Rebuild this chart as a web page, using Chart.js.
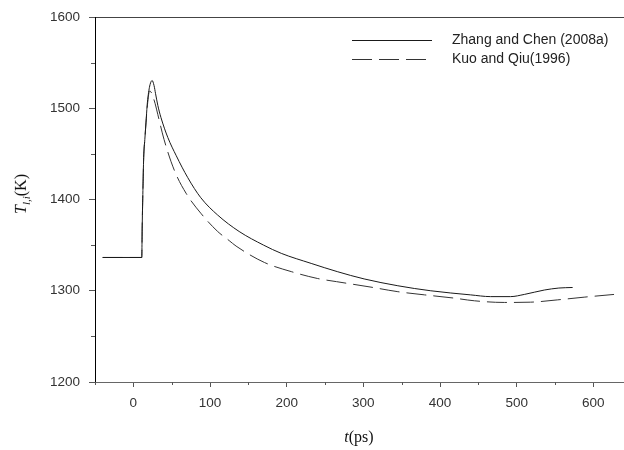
<!DOCTYPE html>
<html>
<head>
<meta charset="utf-8">
<script src="https://cdn.jsdelivr.net/npm/chart.js@4.4.0/dist/chart.umd.min.js"></script>
<style>
  body { margin: 0; overflow: hidden; background: #fff; }
  #wrap { position: relative; width: 624px; height: 450px; }
  .titre { position: absolute; font-family: "Liberation Serif", "Times New Roman", serif; color: #111; white-space: nowrap; }
  .titreY { left: 22px; top: 194px; font-size: 16px; transform: translate(-50%, -50%) rotate(-90deg); }
  .titreY sub { font-size: 11px; }
  .titreX { left: 359px; top: 437px; font-size: 16px; transform: translate(-50%, -50%); }
</style>
</head>
<body>
<div id="wrap">
  <canvas id="myChart" width="624" height="450"></canvas>
  <div class="titre titreY"><i>T</i><sub><i>l,i</i></sub>(K)</div>
  <div class="titre titreX"><i>t</i>(ps)</div>
</div>
<script>
// données (t en ps, T en K)
const tZhang = [-40, 11, 11.6, 12.5, 13.5, 15, 16.5, 18, 19.5, 21, 22.5, 24.5, 27, 29, 32, 36, 45, 56, 71, 88, 110, 138, 170, 193, 232, 266, 301, 345, 388, 440, 466, 492, 510, 536, 555, 573];
const tempZhang = [1336.5, 1336.5, 1372, 1410, 1446, 1466, 1484, 1503, 1515, 1523, 1528, 1530.5, 1525, 1516, 1503, 1490, 1468, 1448, 1424, 1402, 1383, 1365, 1350, 1341, 1330, 1321, 1313, 1305.5, 1300, 1295.5, 1293.6, 1293.6, 1296, 1300.8, 1303, 1303.6];

const tKuo = [-40, 11, 11.6, 12.5, 13.5, 15, 16.5, 18, 19.5, 21, 23, 25.5, 28.5, 32, 40, 53.5, 68.7, 88, 110, 125, 134, 171, 206, 240, 265, 310, 345, 380, 418, 445, 484, 518, 553, 588, 627];
const tempKuo = [1336.5, 1336.5, 1372, 1410, 1446, 1466, 1484, 1500, 1512, 1519, 1518, 1513, 1505, 1493, 1466, 1432, 1407, 1385, 1365, 1355, 1349, 1331, 1321, 1313.5, 1310, 1304, 1299, 1295.5, 1292, 1289, 1287.2, 1287.5, 1290, 1293, 1296];

const nomsSeries = ["Zhang and Chen (2008a)", "Kuo and Qiu(1996)"];

// graduations
const xTickLabels = [0, 100, 200, 300, 400, 500, 600];
const xMinorTicks = [-50, 50, 150, 250, 350, 450, 550];
const yTickLabels = [1200, 1300, 1400, 1500, 1600];
const yMinorTicks = [1250, 1350, 1450, 1550];

function toPoints(xs, ys) {
  let pts = [];
  xs.forEach((v, i) => pts.push({x: v, y: ys[i]}));
  return pts;
}

// petits traits (graduations secondaires)
const petitsTraits = {
  id: 'petitsTraits',
  afterDraw(chart) {
    const ctx = chart.ctx;
    const xs = chart.scales.x, ys = chart.scales.y;
    ctx.save();
    ctx.strokeStyle = '#555';
    ctx.lineWidth = 1;
    ctx.beginPath();
    xMinorTicks.forEach(v => {
      if (v < xs.min || v > xs.max) return;
      const px = Math.round(xs.getPixelForValue(v)) + 0.5;
      ctx.moveTo(px, xs.top);
      ctx.lineTo(px, xs.top + 3);
    });
    yMinorTicks.forEach(v => {
      const py = Math.round(ys.getPixelForValue(v)) + 0.5;
      ctx.moveTo(ys.right - 4, py);
      ctx.lineTo(ys.right, py);
    });
    ctx.stroke();
    ctx.restore();
  }
};

// légende dessinée à la main en haut à droite
const legende = {
  id: 'legende',
  afterDraw(chart) {
    const ctx = chart.ctx;
    ctx.save();
    ctx.font = '14px "Liberation Sans", Arial, sans-serif';
    ctx.textBaseline = 'middle';
    chart.data.datasets.forEach((ds, i) => {
      const y = 40.5 + i * 19;
      ctx.strokeStyle = ds.borderColor;
      ctx.lineWidth = 1;
      ctx.setLineDash(ds.borderDash || []);
      ctx.beginPath();
      ctx.moveTo(352, y);
      ctx.lineTo(ds.borderDash ? 426 : 432, y);
      ctx.stroke();
      ctx.fillStyle = '#222';
      ctx.fillText(ds.label, 452, y);
    });
    ctx.restore();
  }
};

const ctx = document.getElementById('myChart').getContext('2d');
const config = {
  type: 'line',
  data: {
    datasets: [
      {
        label: nomsSeries[0],
        data: toPoints(tZhang, tempZhang),
        borderColor: '#1a1a1a',
        borderWidth: 1,
        pointRadius: 0,
        cubicInterpolationMode: 'monotone'
      },
      {
        label: nomsSeries[1],
        data: toPoints(tKuo, tempKuo),
        borderColor: '#333',
        borderWidth: 1,
        borderDash: [20, 7],
        pointRadius: 0,
        cubicInterpolationMode: 'monotone'
      }
    ]
  },
  options: {
    responsive: false,
    animation: false,
    layout: { padding: { left: 0, top: 9, right: 0, bottom: 0 } },
    plugins: { legend: { display: false }, tooltip: { enabled: false } },
    scales: {
      x: {
        type: 'linear',
        min: -50,
        max: 640,
        afterFit: s => { s.height = 68; },
        afterBuildTicks: s => { s.ticks = xTickLabels.map(v => ({value: v})); },
        grid: { drawOnChartArea: false, drawTicks: true, tickLength: 5, tickColor: '#555' },
        border: { color: '#666', width: 1 },
        ticks: {
          padding: 8,
          color: '#333',
          font: { family: '"Liberation Sans", Arial, sans-serif', size: 13.5 },
          maxRotation: 0,
          callback: v => String(v)
        }
      },
      xHaut: {
        type: 'linear',
        position: 'top',
        min: 0,
        max: 1,
        afterFit: s => { s.height = 0; },
        grid: { display: false },
        ticks: { display: false },
        border: { color: '#444', width: 1 }
      },
      y: {
        min: 1200,
        max: 1600,
        afterFit: s => { s.width = 95; },
        afterBuildTicks: s => { s.ticks = yTickLabels.map(v => ({value: v})); },
        grid: { drawOnChartArea: false, drawTicks: true, tickLength: 6, tickColor: '#555' },
        border: { color: '#000', width: 1 },
        ticks: {
          padding: 9,
          color: '#333',
          font: { family: '"Liberation Sans", Arial, sans-serif', size: 13.5 },
          callback: v => String(v)
        }
      }
    }
  },
  plugins: [petitsTraits, legende]
};

let myChart = new Chart(ctx, config);
</script>
</body>
</html>
